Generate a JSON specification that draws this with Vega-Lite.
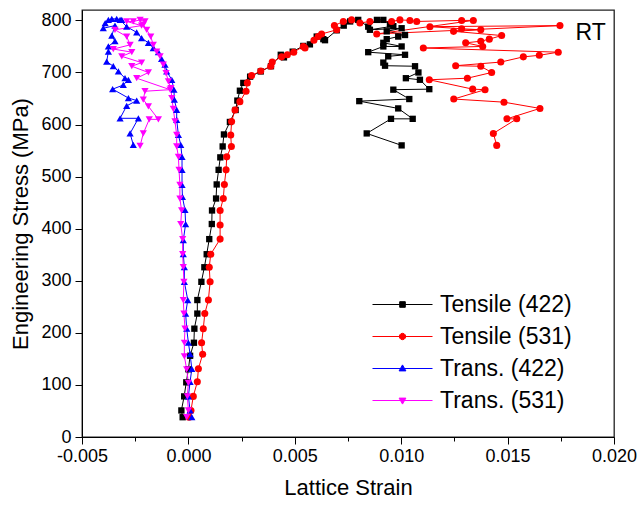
{
 "$schema": "https://vega.github.io/schema/vega-lite/v6.json",
 "width": 532, "height": 427,
 "autosize": {"type": "none"},
 "padding": {"left": 82, "top": 10, "right": 27, "bottom": 71},
 "background": "white",
 "config": {
  "view": {"stroke": "#222222", "strokeWidth": 1.3},
  "font": "Liberation Sans",
  "axis": {"grid": false, "domainColor": "black", "tickColor": "black", "labelColor": "black", "titleColor": "black", "labelFont": "Liberation Sans", "titleFont": "Liberation Sans", "labelFontSize": 18, "titleFontSize": 22, "titleFontWeight": "normal", "domainWidth": 1, "tickWidth": 1}
 },
 "datasets": {
  "pts": [
   {"s":"Tensile (422)","i":1,"x":-0.00027,"y":38},{"s":"Tensile (422)","i":2,"x":-0.00033,"y":51},{"s":"Tensile (422)","i":3,"x":-0.0002,"y":78},{"s":"Tensile (422)","i":4,"x":-0.0001,"y":105},{"s":"Tensile (422)","i":5,"x":0.0,"y":130},{"s":"Tensile (422)","i":6,"x":0.00008,"y":156},{"s":"Tensile (422)","i":7,"x":0.00026,"y":181},{"s":"Tensile (422)","i":8,"x":0.00028,"y":208},{"s":"Tensile (422)","i":9,"x":0.00042,"y":237},{"s":"Tensile (422)","i":10,"x":0.00042,"y":263},{"s":"Tensile (422)","i":11,"x":0.00061,"y":298},{"s":"Tensile (422)","i":12,"x":0.00075,"y":326},{"s":"Tensile (422)","i":13,"x":0.00086,"y":351},{"s":"Tensile (422)","i":14,"x":0.00098,"y":380},{"s":"Tensile (422)","i":15,"x":0.0011,"y":409},{"s":"Tensile (422)","i":16,"x":0.00111,"y":435},{"s":"Tensile (422)","i":17,"x":0.0013,"y":458},{"s":"Tensile (422)","i":18,"x":0.00133,"y":485},{"s":"Tensile (422)","i":19,"x":0.00142,"y":513},{"s":"Tensile (422)","i":20,"x":0.0015,"y":537},{"s":"Tensile (422)","i":21,"x":0.00161,"y":558},{"s":"Tensile (422)","i":22,"x":0.00167,"y":581},{"s":"Tensile (422)","i":23,"x":0.00195,"y":605},{"s":"Tensile (422)","i":24,"x":0.00222,"y":628},{"s":"Tensile (422)","i":25,"x":0.0023,"y":646},{"s":"Tensile (422)","i":26,"x":0.00242,"y":665},{"s":"Tensile (422)","i":27,"x":0.00258,"y":680},{"s":"Tensile (422)","i":28,"x":0.0029,"y":692},{"s":"Tensile (422)","i":29,"x":0.0034,"y":702},{"s":"Tensile (422)","i":30,"x":0.00388,"y":712},{"s":"Tensile (422)","i":31,"x":0.00434,"y":734},{"s":"Tensile (422)","i":32,"x":0.00449,"y":729},{"s":"Tensile (422)","i":33,"x":0.0049,"y":740},{"s":"Tensile (422)","i":34,"x":0.0054,"y":751},{"s":"Tensile (422)","i":35,"x":0.00571,"y":754},{"s":"Tensile (422)","i":36,"x":0.00603,"y":769},{"s":"Tensile (422)","i":37,"x":0.00634,"y":764},{"s":"Tensile (422)","i":38,"x":0.00642,"y":762},{"s":"Tensile (422)","i":39,"x":0.00697,"y":781},{"s":"Tensile (422)","i":40,"x":0.0073,"y":790},{"s":"Tensile (422)","i":41,"x":0.0076,"y":798},{"s":"Tensile (422)","i":42,"x":0.00798,"y":801},{"s":"Tensile (422)","i":43,"x":0.00845,"y":788},{"s":"Tensile (422)","i":44,"x":0.00886,"y":801},{"s":"Tensile (422)","i":45,"x":0.00916,"y":801},{"s":"Tensile (422)","i":46,"x":0.00947,"y":792},{"s":"Tensile (422)","i":47,"x":0.00963,"y":789},{"s":"Tensile (422)","i":48,"x":0.00853,"y":782},{"s":"Tensile (422)","i":49,"x":0.01002,"y":785},{"s":"Tensile (422)","i":50,"x":0.00932,"y":779},{"s":"Tensile (422)","i":51,"x":0.01018,"y":772},{"s":"Tensile (422)","i":52,"x":0.00986,"y":769},{"s":"Tensile (422)","i":53,"x":0.00932,"y":764},{"s":"Tensile (422)","i":54,"x":0.00916,"y":757},{"s":"Tensile (422)","i":55,"x":0.01002,"y":750},{"s":"Tensile (422)","i":56,"x":0.00916,"y":750},{"s":"Tensile (422)","i":57,"x":0.00845,"y":739},{"s":"Tensile (422)","i":58,"x":0.01018,"y":734},{"s":"Tensile (422)","i":59,"x":0.00939,"y":731},{"s":"Tensile (422)","i":60,"x":0.00916,"y":719},{"s":"Tensile (422)","i":61,"x":0.00924,"y":713},{"s":"Tensile (422)","i":62,"x":0.01065,"y":712},{"s":"Tensile (422)","i":63,"x":0.01081,"y":700},{"s":"Tensile (422)","i":64,"x":0.01022,"y":689},{"s":"Tensile (422)","i":65,"x":0.01088,"y":686},{"s":"Tensile (422)","i":66,"x":0.01132,"y":668},{"s":"Tensile (422)","i":67,"x":0.00963,"y":667},{"s":"Tensile (422)","i":68,"x":0.01038,"y":649},{"s":"Tensile (422)","i":69,"x":0.00803,"y":645},{"s":"Tensile (422)","i":70,"x":0.00986,"y":631},{"s":"Tensile (422)","i":71,"x":0.01054,"y":611},{"s":"Tensile (422)","i":72,"x":0.00952,"y":611},{"s":"Tensile (422)","i":73,"x":0.00838,"y":583},{"s":"Tensile (422)","i":74,"x":0.01002,"y":560},
   {"s":"Tensile (531)","i":1,"x":0.00003,"y":38},{"s":"Tensile (531)","i":2,"x":0.00012,"y":51},{"s":"Tensile (531)","i":3,"x":0.00023,"y":78},{"s":"Tensile (531)","i":4,"x":0.00042,"y":106},{"s":"Tensile (531)","i":5,"x":0.00047,"y":131},{"s":"Tensile (531)","i":6,"x":0.00067,"y":159},{"s":"Tensile (531)","i":7,"x":0.00062,"y":181},{"s":"Tensile (531)","i":8,"x":0.0007,"y":208},{"s":"Tensile (531)","i":9,"x":0.00077,"y":237},{"s":"Tensile (531)","i":10,"x":0.00094,"y":263},{"s":"Tensile (531)","i":11,"x":0.00102,"y":298},{"s":"Tensile (531)","i":12,"x":0.00098,"y":326},{"s":"Tensile (531)","i":13,"x":0.00105,"y":351},{"s":"Tensile (531)","i":14,"x":0.00149,"y":380},{"s":"Tensile (531)","i":15,"x":0.00149,"y":407},{"s":"Tensile (531)","i":16,"x":0.00149,"y":435},{"s":"Tensile (531)","i":17,"x":0.00164,"y":458},{"s":"Tensile (531)","i":18,"x":0.00169,"y":485},{"s":"Tensile (531)","i":19,"x":0.00177,"y":513},{"s":"Tensile (531)","i":20,"x":0.0018,"y":538},{"s":"Tensile (531)","i":21,"x":0.00202,"y":558},{"s":"Tensile (531)","i":22,"x":0.00199,"y":580},{"s":"Tensile (531)","i":23,"x":0.00203,"y":606},{"s":"Tensile (531)","i":24,"x":0.00219,"y":628},{"s":"Tensile (531)","i":25,"x":0.00242,"y":644},{"s":"Tensile (531)","i":26,"x":0.00271,"y":664},{"s":"Tensile (531)","i":27,"x":0.00277,"y":680},{"s":"Tensile (531)","i":28,"x":0.00297,"y":694},{"s":"Tensile (531)","i":29,"x":0.0034,"y":703},{"s":"Tensile (531)","i":30,"x":0.00387,"y":712},{"s":"Tensile (531)","i":31,"x":0.00394,"y":720},{"s":"Tensile (531)","i":32,"x":0.00438,"y":730},{"s":"Tensile (531)","i":33,"x":0.00465,"y":734},{"s":"Tensile (531)","i":34,"x":0.00495,"y":739},{"s":"Tensile (531)","i":35,"x":0.0054,"y":750},{"s":"Tensile (531)","i":36,"x":0.00548,"y":747},{"s":"Tensile (531)","i":37,"x":0.0059,"y":762},{"s":"Tensile (531)","i":38,"x":0.0061,"y":769},{"s":"Tensile (531)","i":39,"x":0.00626,"y":774},{"s":"Tensile (531)","i":40,"x":0.00697,"y":782},{"s":"Tensile (531)","i":41,"x":0.00686,"y":790},{"s":"Tensile (531)","i":42,"x":0.00728,"y":798},{"s":"Tensile (531)","i":43,"x":0.00767,"y":801},{"s":"Tensile (531)","i":44,"x":0.00806,"y":795},{"s":"Tensile (531)","i":45,"x":0.00853,"y":798},{"s":"Tensile (531)","i":46,"x":0.00955,"y":798},{"s":"Tensile (531)","i":47,"x":0.00994,"y":801},{"s":"Tensile (531)","i":48,"x":0.01041,"y":800},{"s":"Tensile (531)","i":49,"x":0.01073,"y":798},{"s":"Tensile (531)","i":50,"x":0.01284,"y":800},{"s":"Tensile (531)","i":51,"x":0.01339,"y":800},{"s":"Tensile (531)","i":52,"x":0.00885,"y":774},{"s":"Tensile (531)","i":53,"x":0.01746,"y":790},{"s":"Tensile (531)","i":54,"x":0.01135,"y":788},{"s":"Tensile (531)","i":55,"x":0.01284,"y":784},{"s":"Tensile (531)","i":56,"x":0.01374,"y":782},{"s":"Tensile (531)","i":57,"x":0.01246,"y":779},{"s":"Tensile (531)","i":58,"x":0.01472,"y":771},{"s":"Tensile (531)","i":59,"x":0.01414,"y":764},{"s":"Tensile (531)","i":60,"x":0.01374,"y":760},{"s":"Tensile (531)","i":61,"x":0.01303,"y":757},{"s":"Tensile (531)","i":62,"x":0.01383,"y":750},{"s":"Tensile (531)","i":63,"x":0.01104,"y":747},{"s":"Tensile (531)","i":64,"x":0.01738,"y":739},{"s":"Tensile (531)","i":65,"x":0.01649,"y":733},{"s":"Tensile (531)","i":66,"x":0.01574,"y":730},{"s":"Tensile (531)","i":67,"x":0.01468,"y":720},{"s":"Tensile (531)","i":68,"x":0.01256,"y":713},{"s":"Tensile (531)","i":69,"x":0.01374,"y":712},{"s":"Tensile (531)","i":70,"x":0.01425,"y":700},{"s":"Tensile (531)","i":71,"x":0.01311,"y":689},{"s":"Tensile (531)","i":72,"x":0.01132,"y":686},{"s":"Tensile (531)","i":73,"x":0.01336,"y":668},{"s":"Tensile (531)","i":74,"x":0.01394,"y":667},{"s":"Tensile (531)","i":75,"x":0.01247,"y":649},{"s":"Tensile (531)","i":76,"x":0.01483,"y":643},{"s":"Tensile (531)","i":77,"x":0.01652,"y":631},{"s":"Tensile (531)","i":78,"x":0.01497,"y":611},{"s":"Tensile (531)","i":79,"x":0.01543,"y":611},{"s":"Tensile (531)","i":80,"x":0.01433,"y":583},{"s":"Tensile (531)","i":81,"x":0.01449,"y":560},
   {"s":"Trans. (422)","i":1,"x":0.00016,"y":38},{"s":"Trans. (422)","i":2,"x":0.00008,"y":51},{"s":"Trans. (422)","i":3,"x":0.0,"y":78},{"s":"Trans. (422)","i":4,"x":0.00008,"y":106},{"s":"Trans. (422)","i":5,"x":0.00016,"y":131},{"s":"Trans. (422)","i":6,"x":0.00008,"y":159},{"s":"Trans. (422)","i":7,"x":0.0,"y":181},{"s":"Trans. (422)","i":8,"x":-0.00008,"y":208},{"s":"Trans. (422)","i":9,"x":-0.00013,"y":237},{"s":"Trans. (422)","i":10,"x":-0.00003,"y":263},{"s":"Trans. (422)","i":11,"x":-0.00019,"y":298},{"s":"Trans. (422)","i":12,"x":-0.00019,"y":326},{"s":"Trans. (422)","i":13,"x":-0.00024,"y":351},{"s":"Trans. (422)","i":14,"x":-0.00024,"y":378},{"s":"Trans. (422)","i":15,"x":-0.00013,"y":409},{"s":"Trans. (422)","i":16,"x":-0.00016,"y":436},{"s":"Trans. (422)","i":17,"x":-0.00028,"y":461},{"s":"Trans. (422)","i":18,"x":-0.0003,"y":484},{"s":"Trans. (422)","i":19,"x":-0.0003,"y":513},{"s":"Trans. (422)","i":20,"x":-0.0003,"y":538},{"s":"Trans. (422)","i":21,"x":-0.00036,"y":561},{"s":"Trans. (422)","i":22,"x":-0.00047,"y":580},{"s":"Trans. (422)","i":23,"x":-0.00055,"y":609},{"s":"Trans. (422)","i":24,"x":-0.00055,"y":628},{"s":"Trans. (422)","i":25,"x":-0.00066,"y":648},{"s":"Trans. (422)","i":26,"x":-0.00068,"y":667},{"s":"Trans. (422)","i":27,"x":-0.00078,"y":686},{"s":"Trans. (422)","i":28,"x":-0.00102,"y":702},{"s":"Trans. (422)","i":29,"x":-0.0011,"y":715},{"s":"Trans. (422)","i":30,"x":-0.00126,"y":726},{"s":"Trans. (422)","i":31,"x":-0.00141,"y":739},{"s":"Trans. (422)","i":32,"x":-0.00165,"y":747},{"s":"Trans. (422)","i":33,"x":-0.00188,"y":757},{"s":"Trans. (422)","i":34,"x":-0.0022,"y":766},{"s":"Trans. (422)","i":35,"x":-0.00243,"y":777},{"s":"Trans. (422)","i":36,"x":-0.0029,"y":788},{"s":"Trans. (422)","i":37,"x":-0.00321,"y":801},{"s":"Trans. (422)","i":38,"x":-0.00313,"y":801},{"s":"Trans. (422)","i":39,"x":-0.00337,"y":803},{"s":"Trans. (422)","i":40,"x":-0.0036,"y":803},{"s":"Trans. (422)","i":41,"x":-0.00376,"y":801},{"s":"Trans. (422)","i":42,"x":-0.00391,"y":795},{"s":"Trans. (422)","i":43,"x":-0.004,"y":785},{"s":"Trans. (422)","i":44,"x":-0.00345,"y":790},{"s":"Trans. (422)","i":45,"x":-0.0036,"y":771},{"s":"Trans. (422)","i":46,"x":-0.00345,"y":760},{"s":"Trans. (422)","i":47,"x":-0.00376,"y":750},{"s":"Trans. (422)","i":48,"x":-0.00376,"y":740},{"s":"Trans. (422)","i":49,"x":-0.00384,"y":721},{"s":"Trans. (422)","i":50,"x":-0.00353,"y":712},{"s":"Trans. (422)","i":51,"x":-0.00329,"y":702},{"s":"Trans. (422)","i":52,"x":-0.00298,"y":689},{"s":"Trans. (422)","i":53,"x":-0.00282,"y":686},{"s":"Trans. (422)","i":54,"x":-0.00306,"y":676},{"s":"Trans. (422)","i":55,"x":-0.00356,"y":668},{"s":"Trans. (422)","i":56,"x":-0.00282,"y":651},{"s":"Trans. (422)","i":57,"x":-0.00243,"y":646},{"s":"Trans. (422)","i":58,"x":-0.0029,"y":636},{"s":"Trans. (422)","i":59,"x":-0.00321,"y":612},{"s":"Trans. (422)","i":60,"x":-0.00235,"y":612},{"s":"Trans. (422)","i":61,"x":-0.00274,"y":583},{"s":"Trans. (422)","i":62,"x":-0.00259,"y":561},
   {"s":"Trans. (531)","i":1,"x":-0.00008,"y":38},{"s":"Trans. (531)","i":2,"x":0.0,"y":51},{"s":"Trans. (531)","i":3,"x":-0.00005,"y":78},{"s":"Trans. (531)","i":4,"x":0.0,"y":104},{"s":"Trans. (531)","i":5,"x":-0.00008,"y":130},{"s":"Trans. (531)","i":6,"x":-0.00019,"y":155},{"s":"Trans. (531)","i":7,"x":-0.00019,"y":181},{"s":"Trans. (531)","i":8,"x":-0.00016,"y":208},{"s":"Trans. (531)","i":9,"x":-0.00021,"y":237},{"s":"Trans. (531)","i":10,"x":-0.00024,"y":263},{"s":"Trans. (531)","i":11,"x":-0.00021,"y":298},{"s":"Trans. (531)","i":12,"x":-0.00024,"y":326},{"s":"Trans. (531)","i":13,"x":-0.00027,"y":351},{"s":"Trans. (531)","i":14,"x":-0.00027,"y":380},{"s":"Trans. (531)","i":15,"x":-0.00036,"y":409},{"s":"Trans. (531)","i":16,"x":-0.00032,"y":435},{"s":"Trans. (531)","i":17,"x":-0.0004,"y":458},{"s":"Trans. (531)","i":18,"x":-0.0004,"y":484},{"s":"Trans. (531)","i":19,"x":-0.00044,"y":513},{"s":"Trans. (531)","i":20,"x":-0.00047,"y":538},{"s":"Trans. (531)","i":21,"x":-0.00055,"y":558},{"s":"Trans. (531)","i":22,"x":-0.00055,"y":580},{"s":"Trans. (531)","i":23,"x":-0.00063,"y":606},{"s":"Trans. (531)","i":24,"x":-0.00071,"y":630},{"s":"Trans. (531)","i":25,"x":-0.00078,"y":651},{"s":"Trans. (531)","i":26,"x":-0.00082,"y":670},{"s":"Trans. (531)","i":27,"x":-0.00094,"y":683},{"s":"Trans. (531)","i":28,"x":-0.00105,"y":699},{"s":"Trans. (531)","i":29,"x":-0.00118,"y":715},{"s":"Trans. (531)","i":30,"x":-0.00133,"y":731},{"s":"Trans. (531)","i":31,"x":-0.00149,"y":740},{"s":"Trans. (531)","i":32,"x":-0.00165,"y":753},{"s":"Trans. (531)","i":33,"x":-0.00177,"y":769},{"s":"Trans. (531)","i":34,"x":-0.00196,"y":782},{"s":"Trans. (531)","i":35,"x":-0.00212,"y":792},{"s":"Trans. (531)","i":36,"x":-0.00204,"y":798},{"s":"Trans. (531)","i":37,"x":-0.00227,"y":801},{"s":"Trans. (531)","i":38,"x":-0.00259,"y":798},{"s":"Trans. (531)","i":39,"x":-0.0029,"y":798},{"s":"Trans. (531)","i":40,"x":-0.0022,"y":790},{"s":"Trans. (531)","i":41,"x":-0.00345,"y":782},{"s":"Trans. (531)","i":42,"x":-0.0029,"y":769},{"s":"Trans. (531)","i":43,"x":-0.00274,"y":753},{"s":"Trans. (531)","i":44,"x":-0.00353,"y":745},{"s":"Trans. (531)","i":45,"x":-0.00266,"y":739},{"s":"Trans. (531)","i":46,"x":-0.00313,"y":731},{"s":"Trans. (531)","i":47,"x":-0.0022,"y":719},{"s":"Trans. (531)","i":48,"x":-0.00266,"y":712},{"s":"Trans. (531)","i":49,"x":-0.00188,"y":700},{"s":"Trans. (531)","i":50,"x":-0.00243,"y":689},{"s":"Trans. (531)","i":51,"x":-0.00086,"y":667},{"s":"Trans. (531)","i":52,"x":-0.00204,"y":664},{"s":"Trans. (531)","i":53,"x":-0.00212,"y":648},{"s":"Trans. (531)","i":54,"x":-0.00188,"y":635},{"s":"Trans. (531)","i":55,"x":-0.00141,"y":610},{"s":"Trans. (531)","i":56,"x":-0.00184,"y":610},{"s":"Trans. (531)","i":57,"x":-0.00212,"y":583},{"s":"Trans. (531)","i":58,"x":-0.00227,"y":559}
  ]
 },
 "data": {"name": "pts"},
 "layer": [
  {
   "mark": {"type": "line", "strokeWidth": 1},
   "encoding": {
    "x": {"field": "x", "type": "quantitative", "scale": {"domain": [-0.005, 0.02], "nice": false, "zero": false},
      "axis": {"title": "Lattice Strain", "values": [-0.005,-0.0025,0,0.0025,0.005,0.0075,0.01,0.0125,0.015,0.0175,0.02],
        "labelExpr": "abs(datum.value/0.005 - round(datum.value/0.005)) < 0.01 ? replace(format(datum.value, '.3f'), '\u2212', '-') : ''",
        "tickSize": {"condition": {"test": "abs(datum.value/0.005 - round(datum.value/0.005)) < 0.01", "value": 7}, "value": 4},
        "labelFlush": false, "labelOverlap": false, "labelPadding": 3, "titlePadding": 12}},
    "y": {"field": "y", "type": "quantitative", "scale": {"domain": [0, 820], "nice": false},
      "axis": {"title": "Engineering Stress (MPa)", "values": [0,50,100,150,200,250,300,350,400,450,500,550,600,650,700,750,800],
        "labelExpr": "datum.value % 100 === 0 ? datum.label : ''",
        "tickSize": {"condition": {"test": "datum.value % 100 === 0", "value": 7}, "value": 4},
        "labelOverlap": false, "labelPadding": 4, "titlePadding": 8}},
    "color": {"field": "s", "type": "nominal",
      "scale": {"domain": ["Tensile (422)","Tensile (531)","Trans. (422)","Trans. (531)"], "range": ["#000000","#ff0000","#0000ff","#ff00ff"]},
      "legend": {"orient": "none", "legendX": 309, "legendY": 283, "title": null, "padding": 0,
        "labelFont": "Liberation Sans", "labelFontSize": 23, "labelColor": "black", "symbolSize": 400, "labelOffset": 26, "rowPadding": 8,
        "symbolStrokeWidth": 1, "symbolOpacity": 1,
        "symbolType": {"expr": "datum.value === 'Tensile (422)' ? 'M-3,0H3M-0.28,-0.28H0.28V0.28H-0.28Z' : datum.value === 'Tensile (531)' ? 'M-3,0H3M0.32,0L0.277,0.16L0.16,0.277L0,0.32L-0.16,0.277L-0.277,0.16L-0.32,0L-0.277,-0.16L-0.16,-0.277L0,-0.32L0.16,-0.277L0.277,-0.16Z' : datum.value === 'Trans. (422)' ? 'M-3,0H3M0,-0.36L0.34,0.24L-0.34,0.24Z' : 'M-3,0H3M0,0.36L0.34,-0.24L-0.34,-0.24Z'"},
        "symbolFillColor": {"expr": "datum.value === 'Tensile (422)' ? '#000000' : datum.value === 'Tensile (531)' ? '#ff0000' : datum.value === 'Trans. (422)' ? '#0000ff' : '#ff00ff'"},
        "symbolStrokeColor": {"expr": "datum.value === 'Tensile (422)' ? '#000000' : datum.value === 'Tensile (531)' ? '#ff0000' : datum.value === 'Trans. (422)' ? '#0000ff' : '#ff00ff'"}
      }},
    "order": {"field": "i", "type": "quantitative"}
   }
  },
  {
   "transform": [{"filter": "datum.s === 'Tensile (422)'"}],
   "mark": {"type": "point", "shape": "square", "filled": true, "opacity": 1, "size": 40},
   "encoding": {"x": {"field": "x", "type": "quantitative"}, "y": {"field": "y", "type": "quantitative"}, "color": {"field": "s", "type": "nominal"}}
  },
  {
   "transform": [{"filter": "datum.s === 'Tensile (531)'"}],
   "mark": {"type": "point", "shape": "circle", "filled": true, "opacity": 1, "size": 50},
   "encoding": {"x": {"field": "x", "type": "quantitative"}, "y": {"field": "y", "type": "quantitative"}, "color": {"field": "s", "type": "nominal"}}
  },
  {
   "transform": [{"filter": "datum.s === 'Trans. (422)'"}],
   "mark": {"type": "point", "shape": "triangle-up", "filled": true, "opacity": 1, "size": 52},
   "encoding": {"x": {"field": "x", "type": "quantitative"}, "y": {"field": "y", "type": "quantitative"}, "color": {"field": "s", "type": "nominal"}}
  },
  {
   "transform": [{"filter": "datum.s === 'Trans. (531)'"}],
   "mark": {"type": "point", "shape": "triangle-down", "filled": true, "opacity": 1, "size": 52},
   "encoding": {"x": {"field": "x", "type": "quantitative"}, "y": {"field": "y", "type": "quantitative"}, "color": {"field": "s", "type": "nominal"}}
  },
  {
   "data": {"values": [{}]},
   "mark": {"type": "text", "fontSize": 23, "font": "Liberation Sans", "color": "black", "baseline": "middle", "align": "center"},
   "encoding": {"x": {"datum": 0.0189}, "y": {"datum": 775}, "text": {"value": "RT"}}
  }
 ]
}
